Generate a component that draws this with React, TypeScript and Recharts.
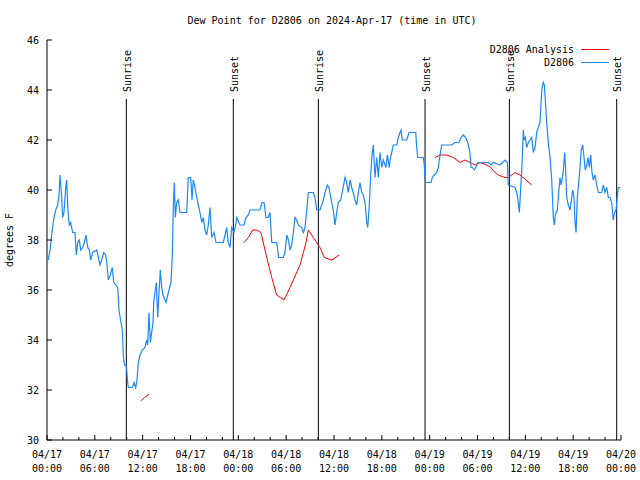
import {
  ComposedChart,
  Line,
  XAxis,
  YAxis,
  ReferenceLine,
  Legend,
} from 'recharts'

// hours since 2024-04-17 00:00 UTC, dew point in F
const stationHours = [
  0.16, 0.38, 0.66, 0.88, 1.09, 1.34, 1.51, 1.63, 1.84, 1.97, 2.13, 2.35, 2.47, 2.55, 2.67, 2.8, 2.97,
  3.22, 3.51, 3.68, 3.85, 4.05, 4.23, 4.48, 4.68, 4.89, 5.11, 5.31, 5.48, 5.73, 6.23, 6.44, 6.65, 6.86,
  7.11, 7.36, 7.53, 7.69, 7.94, 8.19, 8.37, 8.62, 8.87, 9.03, 9.28, 9.45, 9.57, 9.7, 9.91, 10.0, 10.12,
  10.2, 10.7, 10.91, 11.13, 11.29, 11.45, 11.67, 11.95, 12.29, 12.51, 12.63, 12.79, 12.96, 13.13, 13.3,
  13.38, 13.55, 13.71, 13.89, 14.05, 14.21, 14.39, 14.55, 14.93, 15.22, 15.55, 15.72, 15.84, 15.97,
  16.09, 16.27, 16.47, 16.68, 17.52, 17.72, 18.03, 18.19, 18.35, 18.56, 18.78, 19.19, 19.41, 19.61,
  19.82, 20.03, 20.23, 20.45, 20.66, 20.95, 21.2, 22.12, 22.33, 22.54, 22.74, 22.96, 23.17, 23.46,
  23.67, 23.8, 24.05, 24.21, 24.71, 24.96, 25.25, 25.46, 26.72, 26.97, 27.22, 27.47, 27.76, 27.97,
  28.19, 28.81, 29.06, 29.64, 29.85, 30.07, 30.27, 30.48, 30.69, 30.9, 31.11, 31.32, 31.52, 31.95,
  32.15, 32.36, 32.58, 32.78, 33.4, 33.62, 33.83, 34.24, 34.58, 34.87, 35.16, 35.37, 35.71, 35.91,
  36.13, 36.34, 36.54, 36.84, 37.09, 37.38, 37.59, 37.79, 38.01, 38.22, 38.42, 38.63, 38.85, 39.05,
  39.26, 39.48, 39.68, 39.89, 40.1, 40.23, 40.43, 40.6, 40.77, 40.93, 41.14, 41.36, 41.56, 41.77,
  41.98, 42.19, 42.52, 42.69, 42.94, 43.03, 43.24, 43.44, 43.87, 44.07, 44.28, 44.41, 44.57, 45.12,
  45.41, 46.25, 46.38, 46.5, 47.2, 47.33, 47.42, 47.5, 48.17, 48.33, 48.58, 48.88, 49.08, 49.3, 49.51,
  50.76, 51.18, 51.68, 51.93, 52.22, 52.52, 52.77, 53.06, 53.19, 53.35, 53.6, 53.78, 54.03, 54.94,
  55.36, 55.7, 55.98, 56.82, 57.45, 57.74, 57.87, 58.71, 58.92, 59.12, 59.25, 59.42, 59.55, 59.67,
  59.75, 59.87, 60.0, 60.17, 60.37, 60.59, 60.8, 61.0, 61.21, 61.43, 61.63, 61.84, 61.97, 62.09, 62.26,
  62.38, 62.51, 62.68, 62.88, 63.1, 63.31, 63.43, 63.51, 63.64, 63.76, 64.01, 64.19, 64.35, 64.48,
  64.6, 64.77, 64.94, 65.1, 65.19, 65.39, 65.61, 65.82, 65.94, 66.11, 66.23, 66.36, 66.52, 66.7, 66.86,
  67.02, 67.2, 67.36, 67.52, 67.7, 67.86, 68.03, 68.2, 68.36, 68.53, 68.74, 68.95, 69.16, 69.58,
  69.78, 69.99, 70.21, 70.41, 70.62, 70.83, 71.03, 71.21, 71.37, 71.53, 71.66, 71.88,
]
const stationDew = [
  37.2, 37.6, 38.4, 38.9, 39.2, 39.4, 39.8, 40.6, 39.7, 38.9, 39.1, 40.1, 40.4, 39.7, 39.0, 38.6, 38.7,
  38.3, 38.3, 37.4, 37.9, 38.0, 37.6, 37.7, 37.9, 38.2, 37.7, 37.6, 37.2, 37.5, 37.6, 37.3, 37.0, 37.2,
  37.5, 37.4, 37.0, 36.4, 36.6, 36.9, 36.3, 36.2, 36.1, 35.2, 34.7, 34.4, 33.4, 33.0, 33.0, 32.8, 32.3,
  32.1, 32.1, 32.3, 32.1, 32.4, 33.1, 33.4, 33.6, 33.7, 34.0, 33.8, 35.1, 33.9, 34.3, 34.7,
  35.5, 35.9, 36.3, 34.9, 35.9, 36.8, 36.1, 35.8, 35.5, 35.9, 36.3, 37.4, 39.3, 40.3,
  38.9, 39.5, 39.6, 39.1, 39.1, 40.5, 40.5, 39.6, 40.4, 40.1, 39.7, 39.1, 38.7, 38.9,
  38.4, 38.2, 38.6, 39.3, 38.1, 38.3, 37.9, 37.9, 38.2, 38.5, 37.9, 37.7, 38.5, 38.3,
  38.6, 38.9, 38.7, 38.6, 38.6, 38.9, 39.0, 39.2, 39.2, 39.5, 39.5, 38.9, 38.9, 39.1,
  37.9, 37.9, 37.3, 37.3, 37.5, 38.2, 38.0, 37.6, 37.8, 38.3, 38.9, 38.8, 38.6, 38.5,
  38.3, 38.5, 39.2, 39.9, 39.9, 39.7, 39.2, 39.2, 39.5, 39.9, 40.2, 40.1, 39.5, 39.2,
  38.6, 39.1, 39.5, 39.6, 40.0, 40.5, 40.3, 39.9, 40.4, 40.1, 39.9, 39.6, 39.4, 39.9,
  40.3, 39.9, 39.8, 39.5, 38.7, 38.5, 39.4, 40.6, 41.4, 41.8, 40.5, 41.3, 40.5, 41.5,
  40.9, 41.2, 40.9, 41.4, 40.9, 41.2, 41.5, 41.8, 41.8, 42.1, 42.3, 42.4, 42.0, 42.0,
  42.3, 42.3, 41.7, 41.3, 41.3, 41.0, 40.5, 40.3, 40.3, 40.5, 40.6, 40.7, 40.9, 41.4, 41.8,
  41.8, 41.9, 41.9, 42.1, 42.2, 42.1, 41.9, 41.5, 40.9, 40.9, 40.8, 40.9, 41.1, 41.1,
  41.1, 41.0, 41.1, 41.0, 41.2, 41.1, 40.2, 40.1, 39.9, 39.5, 39.1, 40.1, 40.8, 41.7,
  42.4, 42.0, 42.1, 41.7, 41.9, 42.0, 42.1, 41.5, 41.7, 42.3, 42.5, 42.7, 43.5, 44.1, 44.3,
  44.2, 43.6, 42.7, 41.9, 41.3, 40.4, 39.5, 38.9, 38.6, 39.0, 39.2, 39.9, 40.5, 40.2,
  40.4, 40.8, 41.5, 40.5, 39.7, 39.4, 39.2, 39.7, 40.0, 39.7, 38.7, 38.3, 39.7, 40.3, 40.9,
  41.6, 41.8, 41.3, 40.8, 41.0, 41.3, 40.9, 41.4, 40.7, 40.4, 40.6, 40.2, 39.9, 39.9,
  40.2, 39.9, 40.1, 39.7, 39.7, 39.5, 38.8, 39.1, 39.2, 39.7, 40.1, 40.1,
]

// analysis has gaps (null)
const analysisHours = [
  11.75, 12.23, 12.79, 18,
  24.71, 25.25, 25.8, 26.3, 26.84, 27.56, 28.19, 28.81, 29.73, 30.48, 31.74, 32.49, 32.78, 33.4,
  34.24, 34.78, 35.71, 36.67, 42,
  48.67, 49.3, 50.14, 50.97, 51.81, 52.43, 53.06, 53.69, 54.32, 55.15, 55.66, 56.2, 56.61, 57.45,
  57.87, 58.71, 59.33, 60.08, 60.8,
]
const analysisDew = [
  31.56, 31.7, 31.83, null,
  37.9, 38.1, 38.4, 38.4, 38.3, 37.3, 36.5, 35.8, 35.6, 36.1, 37.0, 37.9, 38.4, 38.1,
  37.7, 37.3, 37.2, 37.4, null,
  41.3, 41.4, 41.4, 41.3, 41.1, 41.2, 41.1, 41.0, 41.1, 41.0, 40.9, 40.7, 40.6, 40.5,
  40.5, 40.7, 40.6, 40.4, 40.2,
]

const sunHours = [9.95, 23.37, 34.04, 47.42, 58.0, 71.46]
const sunNames = ['Sunrise', 'Sunset', 'Sunrise', 'Sunset', 'Sunrise', 'Sunset']
const sunLineTop = 43.64

const xTicks = [
  0, 2, 4, 6, 8, 10, 12, 14, 16, 18, 20, 22, 24, 26, 28, 30, 32, 34, 36,
  38, 40, 42, 44, 46, 48, 50, 52, 54, 56, 58, 60, 62, 64, 66, 68, 70, 72,
]
const xMajor = [0, 6, 12, 18, 24, 30, 36, 42, 48, 54, 60, 66, 72]
const xTickDates = [
  '04/17', '04/17', '04/17', '04/17', '04/18', '04/18', '04/18', '04/18',
  '04/19', '04/19', '04/19', '04/19', '04/20',
]
const xTickTimes = [
  '00:00', '06:00', '12:00', '18:00', '00:00', '06:00', '12:00', '18:00',
  '00:00', '06:00', '12:00', '18:00', '00:00',
]
const yTicks = [30, 32, 34, 36, 38, 40, 42, 44, 46]
const legendOrder = ['D2806 Analysis', 'D2806']

const FONT = '"DejaVu Sans Mono", monospace'
const BLUE = '#1a88ff'
const RED = '#ff0000'

const stationData = stationHours.map((h, i) => ({ h, v: stationDew[i] }))
const analysisData = analysisHours.map((h, i) => ({ h, v: analysisDew[i] }))

const BottomTick = ({ x, y, payload }: any) => {
  const i = xMajor.indexOf(payload.value)
  const major = i >= 0
  return (
    <g>
      <line x1={x} x2={x} y1={y} y2={y - (major ? 5 : 3)} stroke="#000" />
      {major && (
        <text x={x} y={y} textAnchor="middle" fontFamily={FONT} fontSize={10} fill="#000">
          <tspan x={x} dy={18}>{xTickDates[i]}</tspan>
          <tspan x={x} dy={14}>{xTickTimes[i]}</tspan>
        </text>
      )}
    </g>
  )
}

const TopTick = ({ x, y, payload }: any) => {
  const major = xMajor.includes(payload.value)
  return <line x1={x} x2={x} y1={y} y2={y + (major ? 5 : 3)} stroke="#000" />
}

const LeftTick = ({ x, y, payload }: any) => (
  <g>
    <line x1={x} x2={x + 5} y1={y} y2={y} stroke="#000" />
    <text x={x - 8} y={y + 3.5} textAnchor="end" fontFamily={FONT} fontSize={10} fill="#000">
      {payload.value}
    </text>
  </g>
)

const RightTick = ({ x, y }: any) => (
  <line x1={x} x2={x - 5} y1={y} y2={y} stroke="#000" />
)

const SunLabel = ({ viewBox, text }: any) => {
  const x = viewBox.x + 4.5
  const y = viewBox.y - 7
  return (
    <text
      x={x}
      y={y}
      transform={`rotate(-90 ${x} ${y})`}
      fontFamily={FONT}
      fontSize={10}
      fill="#000"
    >
      {text}
    </text>
  )
}

const renderLegend = (props: any) => {
  const items = [...props.payload].sort(
    (a: any, b: any) => legendOrder.indexOf(a.value) - legendOrder.indexOf(b.value)
  )
  return (
    <div style={{ fontFamily: FONT, fontSize: 10, color: '#000' }}>
      {items.map((entry: any) => (
        <div
          key={entry.value}
          style={{
            display: 'flex',
            justifyContent: 'flex-end',
            alignItems: 'center',
            height: 13,
          }}
        >
          <span>{entry.value}</span>
          <span
            style={{
              display: 'inline-block',
              width: 28,
              height: 0,
              borderTop: `1px solid ${entry.color}`,
              marginLeft: 7,
            }}
          />
        </div>
      ))}
    </div>
  )
}

export default function App() {
  return (
    <div style={{ position: 'absolute', left: 0, top: 0, width: 640, height: 480, background: '#fff' }}>
      <ComposedChart width={640} height={480} margin={{ top: 40, right: 19, bottom: 0, left: 0 }}>
        <XAxis
          dataKey="h"
          type="number"
          domain={[0, 72]}
          allowDataOverflow
          ticks={xTicks}
          interval={0}
          height={40}
          tickSize={0}
          tickMargin={0}
          tickLine={false}
          axisLine={{ stroke: '#000' }}
          tick={<BottomTick />}
        />
        <XAxis
          xAxisId="top"
          orientation="top"
          dataKey="h"
          type="number"
          domain={[0, 72]}
          allowDataOverflow
          ticks={xTicks}
          interval={0}
          height={0}
          tickSize={0}
          tickMargin={0}
          tickLine={false}
          axisLine={{ stroke: '#000' }}
          tick={<TopTick />}
        />
        <YAxis
          type="number"
          domain={[30, 46]}
          allowDataOverflow
          ticks={yTicks}
          interval={0}
          width={47}
          tickSize={0}
          tickMargin={0}
          tickLine={false}
          axisLine={{ stroke: '#000' }}
          tick={<LeftTick />}
        />
        <YAxis
          yAxisId="right"
          orientation="right"
          type="number"
          domain={[30, 46]}
          allowDataOverflow
          ticks={yTicks}
          interval={0}
          width={0}
          tickSize={0}
          tickMargin={0}
          tickLine={false}
          axisLine={{ stroke: '#000' }}
          tick={<RightTick />}
        />
        {sunHours.map((h, i) => (
          <ReferenceLine
            key={i}
            segment={[{ x: h, y: 30 }, { x: h, y: sunLineTop }]}
            stroke="#000"
            strokeWidth={1}
            ifOverflow="visible"
            label={<SunLabel text={sunNames[i]} />}
          />
        ))}
        <Line
          name="D2806 Analysis"
          data={analysisData}
          dataKey="v"
          type="linear"
          stroke={RED}
          strokeWidth={1}
          dot={false}
          activeDot={false}
          connectNulls={false}
          isAnimationActive={false}
        />
        <Line
          name="D2806"
          data={stationData}
          dataKey="v"
          type="linear"
          stroke={BLUE}
          strokeWidth={1.2}
          dot={false}
          activeDot={false}
          isAnimationActive={false}
        />
        <Legend
          layout="vertical"
          align="center"
          verticalAlign="middle"
          content={renderLegend}
          wrapperStyle={{ top: 43, left: 409, width: 200 }}
        />
      </ComposedChart>
      <svg
        width={640}
        height={480}
        style={{ position: 'absolute', left: 0, top: 0, pointerEvents: 'none' }}
      >
        <text x={332} y={23.5} textAnchor="middle" fontFamily={FONT} fontSize={10} fill="#000">
          Dew Point for D2806 on 2024-Apr-17 (time in UTC)
        </text>
        <text
          x={13}
          y={240}
          textAnchor="middle"
          transform="rotate(-90 13 240)"
          fontFamily={FONT}
          fontSize={10}
          fill="#000"
        >
          degrees F
        </text>
      </svg>
    </div>
  )
}
